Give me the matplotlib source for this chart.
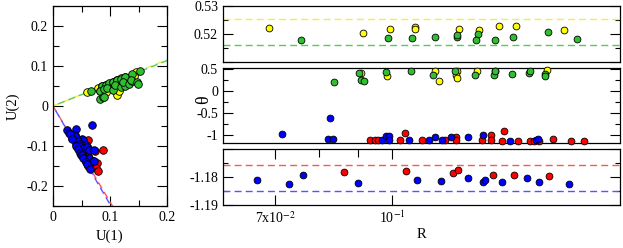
import numpy as np
import matplotlib
matplotlib.use("Agg")
import matplotlib.pyplot as plt
from matplotlib.ticker import MultipleLocator, FixedLocator, NullFormatter, FixedFormatter

plt.rcParams['font.family'] = ['Liberation Serif', 'DejaVu Serif']
plt.rcParams['mathtext.fontset'] = 'stix'
plt.rcParams['font.size'] = 10

# top panel (theta close to 0.52)
top_yellow_R = [0.0686, 0.0915, 0.0992, 0.1070, 0.1070, 0.1224, 0.1301, 0.1383, 0.1458, 0.1685]
top_yellow_th = [0.5223, 0.5207, 0.5218, 0.5226, 0.5219, 0.5219, 0.5215, 0.5232, 0.5229, 0.5215]
top_green_R = [0.0757, 0.0987, 0.1063, 0.1140, 0.1216, 0.1218, 0.1297, 0.1291, 0.1366, 0.1446, 0.1606, 0.1753]
top_green_th = [0.5179, 0.5189, 0.5187, 0.5191, 0.5190, 0.5198, 0.5200, 0.5182, 0.5181, 0.5190, 0.5208, 0.5184]

# middle panel
mid_green_R = [0.0836, 0.0904, 0.0908, 0.0917, 0.0981, 0.1060, 0.1131, 0.1212, 0.1285, 0.1364,
               0.1366, 0.1440, 0.1515, 0.1519, 0.1591, 0.1594]
mid_green_th = [0.21, 0.42, 0.26, 0.24, 0.44, 0.45, 0.36, 0.45, 0.38, 0.38,
                0.45, 0.40, 0.42, 0.45, 0.39, 0.35]
mid_yellow_R = [0.0910, 0.0985, 0.1140, 0.1154, 0.1218, 0.1214, 0.1219, 0.1293, 0.1369, 0.1603]
mid_yellow_th = [0.42, 0.35, 0.45, 0.24, 0.45, 0.36, 0.31, 0.46, 0.47, 0.48]
mid_red_R = [0.0935, 0.0948, 0.0957, 0.1025, 0.1040, 0.1095, 0.1173, 0.1214, 0.1214, 0.1315,
             0.1351, 0.1351, 0.1395, 0.1405, 0.1466, 0.1522, 0.1540, 0.1565, 0.1629, 0.1722, 0.1794]
mid_red_th = [-1.10, -1.10, -1.10, -1.11, -0.95, -1.11, -1.11, -1.04, -1.11, -1.11,
              -1.00, -1.11, -1.12, -0.90, -1.12, -1.12, -1.12, -1.12, -1.08, -1.12, -1.12]
mid_blue_R = [0.0714, 0.0828, 0.0823, 0.0834, 0.0969, 0.0981, 0.0991, 0.0991, 0.1051, 0.1117,
              0.1138, 0.1164, 0.1196, 0.1259, 0.1318, 0.1433, 0.1550, 0.1558]
mid_blue_th = [-0.964, -0.60, -1.09, -1.09, -1.11, -1.02, -1.02, -1.11, -1.11, -1.11,
               -1.04, -1.11, -1.05, -1.05, -1.00, -1.12, -1.10, -1.09]

# bottom panel (theta close to -1.18)
bot_blue_R = [0.0662, 0.0730, 0.0762, 0.0900, 0.1079, 0.1158, 0.1259, 0.1317, 0.1328, 0.1397,
              0.1509, 0.1565, 0.1715]
bot_blue_th = [-1.1812, -1.1827, -1.1795, -1.1822, -1.1811, -1.1814, -1.1804, -1.1819, -1.1813,
               -1.1820, -1.1806, -1.1817, -1.1826]
bot_red_R = [0.0862, 0.1042, 0.1202, 0.1222, 0.1360, 0.1450, 0.1611]
bot_red_th = [-1.1782, -1.1778, -1.1788, -1.1777, -1.1795, -1.1793, -1.1799]

# mean angles (dashed lines)
th_yellow = 0.5254
th_green = 0.5161
th_red = -1.1759
th_blue = -1.1849

cols = {'yellow': '#ffff00', 'green': '#2fbf2f', 'red': '#ff0000', 'blue': '#0000ff'}
lcols = {'yellow': '#f0f040', 'green': '#55cc55', 'red': '#ff5555', 'blue': '#5555ff'}
dash = (0, (5, 3))

fig = plt.figure(figsize=(6.23, 2.48), dpi=100)
axL = fig.add_axes([0.0851, 0.1694, 0.1830, 0.8065])
ax1 = fig.add_axes([0.3579, 0.748, 0.6372, 0.2258])
ax2 = fig.add_axes([0.3579, 0.4254, 0.6372, 0.2984])
ax3 = fig.add_axes([0.3579, 0.1734, 0.6372, 0.2278])

sty = dict(edgecolors='black', linewidths=0.6, clip_on=False, zorder=3)
s_r = 24

# ---- left panel: U(1), U(2) from R, theta
xs = np.array([0, 0.2])
axL.plot(xs, np.tan(th_yellow) * xs, color=lcols['yellow'], lw=1, ls=dash)
axL.plot(xs, np.tan(th_green) * xs, color=lcols['green'], lw=1, ls=(4, (5, 3)))
xs2 = np.array([0, 0.12])
axL.plot(xs2, np.tan(th_red) * xs2, color=lcols['red'], lw=1, ls=dash)
axL.plot(xs2, np.tan(th_blue) * xs2, color=lcols['blue'], lw=1, ls=(4, (5, 3)))

def polar(R, th):
    R = np.array(R); th = np.array(th)
    return R * np.cos(th), R * np.sin(th)

groups = [
    ('yellow', top_yellow_R + mid_yellow_R, top_yellow_th + mid_yellow_th),
    ('green', top_green_R + mid_green_R, top_green_th + mid_green_th),
    ('red', mid_red_R + bot_red_R, mid_red_th + bot_red_th),
    ('blue', mid_blue_R + bot_blue_R, mid_blue_th + bot_blue_th),
]
for c, R, th in groups:
    u1, u2 = polar(R, th)
    axL.scatter(u1, u2, s=30, facecolors=cols[c], edgecolors='black', linewidths=0.6, zorder=3)

axL.set_xlim(0, 0.2)
axL.set_ylim(-0.25, 0.25)
axL.xaxis.set_major_locator(FixedLocator([0, 0.1, 0.2]))
axL.xaxis.set_major_formatter(FixedFormatter(['0', '0.1', '0.2']))
axL.xaxis.set_minor_locator(MultipleLocator(0.05))
axL.yaxis.set_major_locator(FixedLocator([-0.2, -0.1, 0, 0.1, 0.2]))
axL.yaxis.set_major_formatter(FixedFormatter(['-0.2', '-0.1', '0', '0.1', '0.2']))
axL.yaxis.set_minor_locator(MultipleLocator(0.05))
axL.tick_params(which='both', direction='in', top=True, right=True, labelsize=10)
axL.tick_params(which='major', length=7.5, width=0.8)
axL.tick_params(which='minor', length=4, width=0.8)
axL.set_xlabel('U(1)', fontsize=10.5, labelpad=4)
axL.set_ylabel('U(2)', fontsize=10.5, labelpad=5)

# ---- right panels
for ax in (ax1, ax2, ax3):
    ax.set_xscale('log')
    ax.set_xlim(0.0597, 0.2)
    ax.tick_params(which='both', direction='in', left=True, right=True, labelsize=10)
    ax.tick_params(which='major', length=7, width=0.8)
    ax.tick_params(which='minor', length=3.5, width=0.8)

for ax in (ax1, ax2):
    ax.xaxis.set_major_locator(FixedLocator([]))
    ax.xaxis.set_minor_locator(FixedLocator([]))
    ax.tick_params(axis='x', bottom=False, top=False, labelbottom=False)

# top
ax1.axhline(th_yellow, color=lcols['yellow'], lw=1, ls=dash)
ax1.axhline(th_green, color=lcols['green'], lw=1, ls=dash)
ax1.scatter(top_yellow_R, top_yellow_th, s=s_r, facecolors=cols['yellow'], **sty)
ax1.scatter(top_green_R, top_green_th, s=s_r, facecolors=cols['green'], **sty)
ax1.set_ylim(0.51, 0.53)
ax1.yaxis.set_major_locator(FixedLocator([0.51, 0.52, 0.53]))
ax1.yaxis.set_major_formatter(FixedFormatter(['', '0.52', '0.53']))
ax1.yaxis.set_minor_locator(FixedLocator([0.515, 0.525]))

# middle
ax2.scatter(mid_yellow_R, mid_yellow_th, s=s_r, facecolors=cols['yellow'], **sty)
ax2.scatter(mid_green_R, mid_green_th, s=s_r, facecolors=cols['green'], **sty)
ax2.scatter(mid_red_R, mid_red_th, s=s_r, facecolors=cols['red'], **sty)
ax2.scatter(mid_blue_R, mid_blue_th, s=s_r, facecolors=cols['blue'], **sty)
ax2.set_ylim(-1.164, 0.518)
ax2.yaxis.set_major_locator(FixedLocator([-1, -0.5, 0, 0.5]))
ax2.yaxis.set_major_formatter(FixedFormatter(['-1', '-0.5', '0', '0.5']))
ax2.yaxis.set_minor_locator(FixedLocator([-0.75, -0.25, 0.25]))
fig.text(204 / 623, 1 - 100 / 248, 'θ', rotation=90, ha='center', va='center', fontsize=13)

# bottom
ax3.axhline(th_red, color=lcols['red'], lw=1, ls=dash)
ax3.axhline(th_blue, color=lcols['blue'], lw=1, ls=dash)
ax3.scatter(bot_red_R, bot_red_th, s=s_r, facecolors=cols['red'], **sty)
ax3.scatter(bot_blue_R, bot_blue_th, s=s_r, facecolors=cols['blue'], **sty)
ax3.set_ylim(-1.19, -1.17)
ax3.yaxis.set_major_locator(FixedLocator([-1.19, -1.18, -1.17]))
ax3.yaxis.set_major_formatter(FixedFormatter(['-1.19', '-1.18', '']))
ax3.yaxis.set_minor_locator(FixedLocator([-1.185, -1.175]))
ax3.xaxis.set_major_locator(FixedLocator([0.07, 0.1]))
ax3.xaxis.set_major_formatter(FixedFormatter([r'7x10$^{-2}$', r'10$^{-1}$']))
ax3.xaxis.set_minor_locator(FixedLocator([0.08, 0.09]))
ax3.xaxis.set_minor_formatter(NullFormatter())
ax3.tick_params(axis='x', which='major', top=True, bottom=True, length=7)
ax3.tick_params(axis='x', which='minor', top=True, bottom=False, length=6)
ax3.set_xlabel('R', fontsize=10.5, labelpad=1)

for ax in (axL, ax1, ax2, ax3):
    for sp in ax.spines.values():
        sp.set_linewidth(0.9)

fig.savefig('out.png', dpi=100)
